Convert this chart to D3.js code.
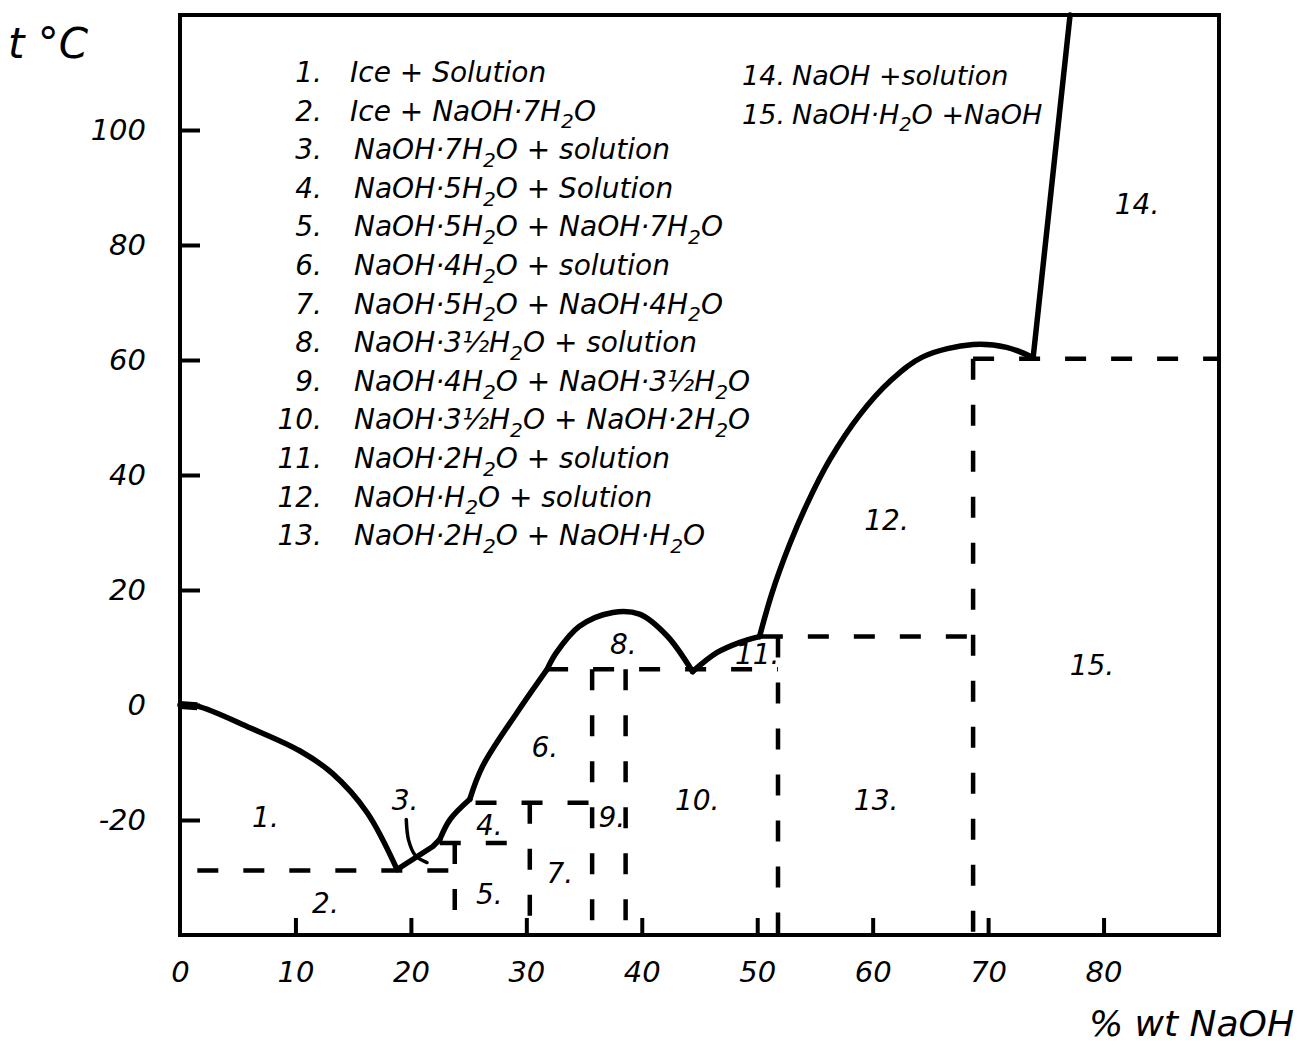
<!DOCTYPE html>
<html>
<head>
<meta charset="utf-8">
<script src="https://cdn.jsdelivr.net/npm/d3@7"></script>
<style>
  body { margin: 0; background: #fff; }
  svg { display: block; }
  text { font-family: "DejaVu Sans", sans-serif; font-style: italic; fill: #000; }
</style>
</head>
<body>
<div id="chart"></div>
<script>
const xTicks = [0, 10, 20, 30, 40, 50, 60, 70, 80];
const yTicks = [-20, 0, 20, 40, 60, 80, 100];

// curvas de liquidus, por tramos
const curveIce = [[0, 0], [1.5, -0.2], [6.1, -4.0], [10.4, -8.0], [13.2, -11.9], [16.2, -18.7], [18.8, -28.6]];
const curve3 = [[18.8, -28.6], [21.9, -24.6], [22.5, -23.4]];
const curve4 = [[22.5, -23.4], [23.4, -19.9], [25.1, -16.4]];
const curve6 = [[25.1, -16.4], [26.2, -10.7], [29.2, -1.3], [31.8, 6.2]];
const curve8 = [[31.8, 6.2], [32.6, 9.1], [34.6, 13.7], [37.5, 16.1], [39.8, 15.8], [42.2, 12.0], [44.4, 5.8]];
const curve11 = [[44.4, 5.8], [46.5, 9.1], [48.5, 10.9], [50.2, 11.9]];
const curve12 = [[50.2, 11.9], [51.3, 19.6], [52.8, 27.9], [54.3, 34.9], [56.3, 42.7], [58.9, 50.5], [61.5, 56.3], [64.3, 60.5], [68.7, 62.7], [71.6, 62.2], [73.9, 60.4]];
const curve14 = [[73.9, 60.4], [77.1, 120]];

// lineas discontinuas: horizontales [t, x1, x2], verticales [x, tTop]
const dashH = [[-28.8, 1.5, 23.8], [-24, 22.5, 30.3], [-17, 25.6, 35.7], [6.2, 31.8, 51.8], [11.9, 50.4, 68.7], [60.2, 68.7, 90]];
const dashV = [[23.8, -24], [30.3, -17], [35.7, 6.2], [38.6, 6.2], [51.8, 11.9], [68.7, 60.2]];

// flecha del campo 3
const arrow3 = [[19.6, -19.9], [19.8, -23.5], [20.4, -26.2], [21.4, -27.4]];

// etiquetas de campo [texto, x, t]
const fieldLabels = [
  ["1.", 7.4, -19.9], ["2.", 12.6, -34.7], ["3.", 19.5, -16.9], ["4.", 26.8, -21.3],
  ["5.", 26.8, -33.3], ["6.", 31.6, -7.7], ["7.", 32.9, -29.6], ["8.", 38.4, 10.2],
  ["9.", 37.4, -19.9], ["10.", 44.8, -16.9], ["11.", 50.0, 8.5], ["12.", 61.2, 31.8],
  ["13.", 60.3, -16.9], ["14.", 82.9, 86.7], ["15.", 79.0, 6.6]
];

// leyenda ("_2" = subindice)
const legendNums = ["1.", "2.", "3.", "4.", "5.", "6.", "7.", "8.", "9.", "10.", "11.", "12.", "13.", "14.", "15."];
const legendTexts = [
  "Ice + Solution",
  "Ice + NaOH·7H_2O",
  "NaOH·7H_2O + solution",
  "NaOH·5H_2O + Solution",
  "NaOH·5H_2O + NaOH·7H_2O",
  "NaOH·4H_2O + solution",
  "NaOH·5H_2O + NaOH·4H_2O",
  "NaOH·3½H_2O + solution",
  "NaOH·4H_2O + NaOH·3½H_2O",
  "NaOH·3½H_2O + NaOH·2H_2O",
  "NaOH·2H_2O + solution",
  "NaOH·H_2O + solution",
  "NaOH·2H_2O + NaOH·H_2O",
  "NaOH +solution",
  "NaOH·H_2O +NaOH"
];

// ---- dimensiones ----
const width = 1299, height = 1045;

const svg = d3.select("#chart").append("svg")
  .attr("width", width)
  .attr("height", height);

const x = d3.scaleLinear().domain([0, 90]).range([180, 1219]);
const y = d3.scaleLinear().domain([-40, 120]).range([935, 15]);

// marco
svg.append("rect")
  .attr("x", x(0)).attr("y", y(120))
  .attr("width", x(90) - x(0)).attr("height", y(-40) - y(120))
  .attr("fill", "none").attr("stroke", "#000").attr("stroke-width", 4);

// ejes
const yAxis = d3.axisLeft(y).tickValues(yTicks).tickFormat(d => String(d))
  .tickSizeInner(-20).tickSizeOuter(0).tickPadding(34);
const gy = svg.append("g").attr("transform", `translate(${x(0)},0)`).call(yAxis);

const xAxis = d3.axisBottom(x).tickValues(xTicks).tickFormat(d => String(d))
  .tickSizeInner(-17).tickSizeOuter(0).tickPadding(26);
const gx = svg.append("g").attr("transform", `translate(0,${y(-40)})`).call(xAxis);

[gx, gy].forEach(g => {
  g.select(".domain").remove();
  g.selectAll(".tick line").attr("stroke", "#000").attr("stroke-width", 4);
  g.selectAll(".tick text")
    .style("font-family", "'DejaVu Sans', sans-serif")
    .style("font-style", "italic")
    .style("font-size", "29px");
});
gx.select(".tick line").remove(); // sin tick en el 0

// lineas discontinuas
const gDash = svg.append("g")
  .attr("stroke", "#000").attr("stroke-width", 4.5)
  .attr("stroke-dasharray", "21,25").attr("fill", "none");

gDash.selectAll("line.h").data(dashH).enter().append("line")
  .attr("class", "h")
  .attr("x1", d => x(d[1])).attr("x2", d => x(d[2]))
  .attr("y1", d => y(d[0])).attr("y2", d => y(d[0]));

gDash.selectAll("line.v").data(dashV).enter().append("line")
  .attr("class", "v")
  .attr("x1", d => x(d[0])).attr("x2", d => x(d[0]))
  .attr("y1", d => y(d[1])).attr("y2", y(-40));

// curvas
const smooth = d3.line().x(d => x(d[0])).y(d => y(d[1])).curve(d3.curveCatmullRom.alpha(0.5));
const straight = d3.line().x(d => x(d[0])).y(d => y(d[1]));

const gCurves = svg.append("g").attr("fill", "none").attr("stroke", "#000")
  .attr("stroke-width", 5.5).attr("stroke-linejoin", "round").attr("stroke-linecap", "round");

[curveIce, curve4, curve6, curve8, curve11, curve12].forEach(c => {
  gCurves.append("path").attr("d", smooth(c));
});
[curve3, curve14].forEach(c => {
  gCurves.append("path").attr("d", straight(c));
});
// trazo grueso en el 0
gCurves.append("path").attr("d", straight(curveIce.slice(0, 2))).attr("stroke-width", 8).attr("stroke-linecap", "butt");

// flecha del 3
svg.append("path").attr("d", smooth(arrow3))
  .attr("fill", "none").attr("stroke", "#000").attr("stroke-width", 3.5).attr("stroke-linecap", "round");

// etiquetas de campos
svg.selectAll("text.field").data(fieldLabels).enter().append("text")
  .attr("class", "field")
  .attr("x", d => x(d[1])).attr("y", d => y(d[2]))
  .attr("text-anchor", "middle").attr("dominant-baseline", "middle")
  .style("font-size", "28px")
  .text(d => d[0]);

// texto con subindices
function richText(sel, str, size) {
  const parts = str.split(/_(\d)/);
  parts.forEach((p, i) => {
    if (i % 2 === 1) {
      sel.append("tspan").attr("dy", size * 0.28).style("font-size", (size * 0.72) + "px").text(p);
    } else if (p.length) {
      sel.append("tspan").attr("dy", i === 0 ? 0 : -size * 0.28).text(p);
    }
  });
}

// leyenda
const legSize = 28;
const legend = svg.append("g").attr("id", "legend");
legendTexts.forEach((t, i) => {
  const col2 = i >= 13;
  const row = col2 ? i - 13 : i;
  const yy = (col2 ? 85 : 82) + row * 38.6;
  const size = col2 ? 27 : legSize;
  const nx = col2 ? 785 : 322;
  const tx = col2 ? 792 : 350;
  legend.append("text")
    .attr("x", nx).attr("y", yy)
    .attr("text-anchor", "end")
    .style("font-size", size + "px")
    .text(legendNums[i]);
  const txt = legend.append("text")
    .attr("x", col2 ? tx : tx + (i > 1 ? 4 : 0)).attr("y", yy)
    .style("font-size", size + "px");
  richText(txt, t, size);
});

// titulos de ejes
svg.append("text").attr("x", 8).attr("y", 58).style("font-size", "42px").text("t °C");
svg.append("text").attr("x", 1294).attr("y", 1036).attr("text-anchor", "end")
  .style("font-size", "36px").text("% wt NaOH");
</script>
</body>
</html>
